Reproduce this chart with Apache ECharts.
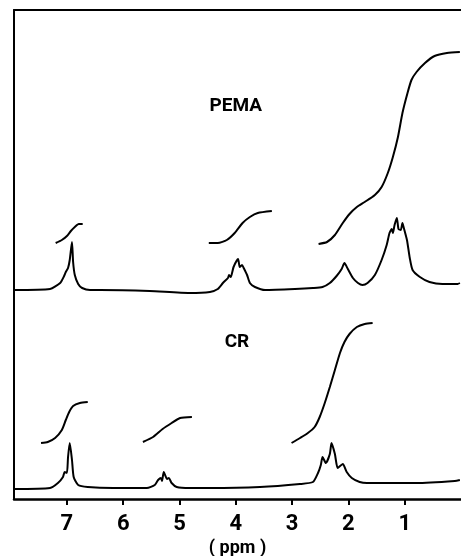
<!DOCTYPE html>
<html>
<head>
<meta charset="utf-8">
<script src="https://cdn.jsdelivr.net/npm/echarts@6/dist/echarts.min.js"></script>
<style>
html,body{margin:0;padding:0;background:#fff;}
#chart{width:461px;height:556px;}
</style>
</head>
<body>
<div id="chart"></div>
<script>
// chemical-shift ticks (ppm)
var tickValues = [1, 2, 3, 4, 5, 6, 7];
var axisName = '( ppm )';

// PEMA spectrum [ppm, signal]
var pemaSpectrum = [
  [7.94,209],[7.30,210],[7.12,216],[7.05,223],[7.02,227],[6.98,231],[6.95,239],[6.91,257],
  [6.89,237],[6.86,224],[6.80,215],[6.73,211],[6.59,209],[6.41,209],[5.53,208],[4.82,206],
  [4.46,207],[4.32,210],[4.23,216],[4.14,221],[4.12,224],[4.09,222],[4.04,232],[3.96,240],
  [3.93,232],[3.89,234],[3.86,231],[3.80,224],[3.75,216],[3.66,212],[3.48,209],[2.95,210],
  [2.63,211],[2.46,212],[2.33,216],[2.21,223],[2.12,230],[2.07,236],[2.01,230],[1.92,221],
  [1.83,216],[1.75,214],[1.66,216],[1.53,224],[1.41,239],[1.32,254],[1.27,266],[1.23,270],
  [1.21,266],[1.18,274],[1.14,281],[1.11,270],[1.07,269],[1.04,276],[1.02,272],[0.96,259],
  [0.91,241],[0.86,229],[0.73,222],[0.56,217],[0.33,215],[0.06,215],[0.02,216]
];
// PEMA integral traces
var pemaInt1 = [[7.20,256],[7.09,259],[7.00,263],[6.93,268],[6.86,272],[6.79,275],[6.72,275]];
var pemaInt2 = [[4.48,256],[4.32,256],[4.16,259],[4.02,266],[3.88,276],[3.75,282],[3.61,286],[3.36,288]];
var pemaInt3 = [
  [2.53,255],[2.38,257],[2.24,264],[2.10,276],[1.98,285],[1.85,292],[1.71,297],[1.53,304],
  [1.41,312],[1.30,326],[1.21,342],[1.12,362],[1.04,386],[0.95,406],[0.88,419],[0.79,427],
  [0.64,436],[0.47,443],[0.25,446],[0.02,447]
];

// CR spectrum [ppm, signal]
var crSpectrum = [
  [7.94,10],[7.30,11],[7.16,16],[7.07,22],[7.04,27],[7.00,26],[6.98,42],[6.95,56],[6.91,39],
  [6.88,22],[6.80,14],[6.63,12],[6.18,11],[5.58,11],[5.44,14],[5.38,19],[5.33,21],[5.31,18],
  [5.28,27],[5.22,20],[5.19,21],[5.14,16],[5.05,12],[4.82,11],[4.46,11],[3.57,12],[2.86,15],
  [2.63,17],[2.54,26],[2.49,34],[2.46,42],[2.40,36],[2.33,45],[2.30,56],[2.24,45],[2.19,31],
  [2.10,35],[2.03,27],[1.94,21],[1.80,17],[1.67,16],[0.79,16],[0.11,18],[0.02,19]
];
// CR integral traces
var crInt1 = [[7.46,56],[7.34,57],[7.21,61],[7.09,69],[7.02,79],[6.96,87],[6.89,93],[6.77,96],[6.63,97]];
var crInt2 = [[5.65,57],[5.47,62],[5.30,70],[5.14,76],[4.99,81],[4.78,82]];
var crInt3 = [
  [3.01,56],[2.86,61],[2.72,66],[2.60,72],[2.51,82],[2.42,96],[2.33,112],[2.24,129],
  [2.15,146],[2.07,157],[1.98,165],[1.85,172],[1.71,175],[1.57,176]
];

// sample labels
var sampleNames = ['PEMA', 'CR'];
var sampleAnchors = [[4.00, 393], [3.98, 157]];

var FONT = '"Liberation Sans Narrow", Roboto, sans-serif';
var INK = '#000';

function curve(data) {
  return {
    type: 'line', data: data, showSymbol: false, smooth: 0.2,
    lineStyle: { color: INK, width: 2 }, silent: true, animation: false,
    xAxisIndex: 0, yAxisIndex: 0, z: 3
  };
}

var chart = echarts.init(document.getElementById('chart'), null, { renderer: 'canvas' });
var option = {
  backgroundColor: '#fff',
  animation: false,
  grid: { left: 14, right: 0, top: 10, bottom: 57, outerBoundsMode: 'none', containLabel: false },
  xAxis: [{
    type: 'value', min: 0, max: 7.94, inverse: true,
    axisLine: { show: true, onZero: false, lineStyle: { color: INK, width: 2.5 } },
    axisTick: { show: true, customValues: tickValues, length: 6, lineStyle: { color: INK, width: 2 } },
    axisLabel: {
      customValues: tickValues, color: INK, fontFamily: FONT, fontWeight: 'bold',
      fontSize: 22, margin: 14
    },
    splitLine: { show: false },
    name: axisName, nameLocation: 'middle', nameGap: 40,
    nameTextStyle: { color: INK, fontFamily: FONT, fontWeight: 'bold', fontSize: 18 }
  }, {
    type: 'value', min: 0, max: 7.94, inverse: true, position: 'top',
    axisLine: { show: true, onZero: false, lineStyle: { color: INK, width: 2 } },
    axisTick: { show: false }, axisLabel: { show: false }, splitLine: { show: false }
  }],
  yAxis: {
    type: 'value', min: 0, max: 489, position: 'left',
    axisLine: { show: true, onZero: false, lineStyle: { color: INK, width: 2 } },
    axisTick: { show: false }, axisLabel: { show: false }, splitLine: { show: false }
  },
  series: [
    curve(pemaSpectrum), curve(pemaInt1), curve(pemaInt2), curve(pemaInt3),
    curve(crSpectrum), curve(crInt1), curve(crInt2), curve(crInt3),
    {
      type: 'scatter', symbolSize: 0, silent: true, animation: false,
      itemStyle: { opacity: 1 },
      data: sampleAnchors.map(function (p, i) { return { value: p, name: sampleNames[i] }; }),
      label: {
        show: true, position: 'inside', formatter: '{b}', color: INK, opacity: 1,
        fontFamily: FONT, fontWeight: 'bold', fontSize: 19
      }
    }
  ]
};
chart.setOption(option);
</script>
</body>
</html>
